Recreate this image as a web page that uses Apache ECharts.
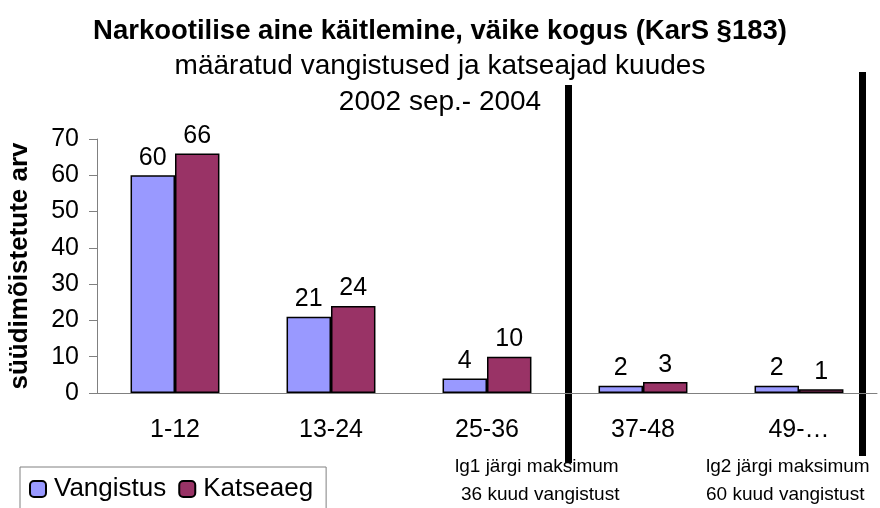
<!DOCTYPE html>
<html>
<head>
<meta charset="utf-8">
<script src="https://cdn.jsdelivr.net/npm/echarts@6/dist/echarts.min.js"></script>
<style>
  html, body { margin: 0; padding: 0; background: #fff; }
  #chart { width: 880px; height: 508px; }
</style>
</head>
<body>
<div id="chart"></div>
<script>
var categories = ['1-12', '13-24', '25-36', '37-48', '49-…']
var vangistus = [60, 21, 4, 2, 2]
var katseaeg = [66, 24, 10, 3, 1]
var yTicks = [0, 10, 20, 30, 40, 50, 60, 70]

var font = 'Liberation Sans, Arial, sans-serif'
var chart = echarts.init(document.getElementById('chart'))

function barLabel() {
  return { show: true, position: 'top', distance: 5, fontSize: 25, color: '#000', fontFamily: font }
}

var option = {
  animation: false,
  textStyle: { fontFamily: font },
  title: [
    {
      text: 'Narkootilise aine käitlemine, väike kogus (KarS §183)',
      left: 'center', top: 12,
      textStyle: { fontSize: 27.5, fontWeight: 'bold', color: '#000', fontFamily: font }
    },
    {
      text: 'määratud vangistused ja katseajad kuudes',
      left: 'center', top: 47,
      textStyle: { fontSize: 28, fontWeight: 'normal', color: '#000', fontFamily: font }
    },
    {
      text: '2002 sep.- 2004',
      left: 'center', top: 83,
      textStyle: { fontSize: 28, fontWeight: 'normal', color: '#000', fontFamily: font }
    }
  ],
  legend: {
    left: 20, top: 467,
    itemWidth: 16, itemHeight: 16, itemGap: 12,
    padding: [9, 13, 10, 9],
    borderColor: '#808080', borderWidth: 1,
    textStyle: { fontSize: 26, color: '#000', fontFamily: font, padding: [0, 0, 0, 3] },
    data: ['Vangistus', 'Katseaeg']
  },
  grid: { left: 97, right: 3, top: 139, bottom: 115, outerBoundsMode: 'none' },
  xAxis: {
    type: 'category',
    data: categories,
    axisLine: { lineStyle: { color: '#808080', width: 1 } },
    axisTick: { length: 7, lineStyle: { color: '#808080' } },
    axisLabel: { fontSize: 25, color: '#000', margin: 25, fontFamily: font }
  },
  yAxis: {
    type: 'value',
    min: yTicks[0], max: yTicks[yTicks.length - 1], interval: 10,
    name: 'süüdimõistetute arv',
    nameLocation: 'middle', nameGap: 64,
    nameTextStyle: { fontSize: 26, fontWeight: 'bold', color: '#000', fontFamily: font },
    axisLine: { show: true, lineStyle: { color: '#808080' } },
    axisTick: { show: true, length: 8, lineStyle: { color: '#808080' } },
    axisLabel: { fontSize: 25, color: '#000', margin: 18, fontFamily: font },
    splitLine: { show: false }
  },
  series: [
    {
      name: 'Vangistus', type: 'bar', data: vangistus,
      barGap: '0%', barCategoryGap: '43%',
      itemStyle: { color: '#9999FF', borderColor: '#000', borderWidth: 1.5 },
      label: barLabel()
    },
    {
      name: 'Katseaeg', type: 'bar', data: katseaeg,
      itemStyle: { color: '#993366', borderColor: '#000', borderWidth: 1.5 },
      label: barLabel()
    }
  ],
  graphic: [
    { type: 'rect', shape: { x: 565, y: 85, width: 7, height: 378 }, style: { fill: '#000' } },
    { type: 'rect', shape: { x: 859, y: 72, width: 7, height: 384 }, style: { fill: '#000' } },
    { type: 'text', left: 455, top: 457, style: { text: 'lg1 järgi maksimum', fontSize: 19, fill: '#000', fontFamily: font } },
    { type: 'text', left: 461, top: 485, style: { text: '36 kuud vangistust', fontSize: 19, fill: '#000', fontFamily: font } },
    { type: 'text', left: 706, top: 457, style: { text: 'lg2 järgi maksimum', fontSize: 19, fill: '#000', fontFamily: font } },
    { type: 'text', left: 706, top: 485, style: { text: '60 kuud vangistust', fontSize: 19, fill: '#000', fontFamily: font } }
  ]
}

chart.setOption(option)
</script>
</body>
</html>
